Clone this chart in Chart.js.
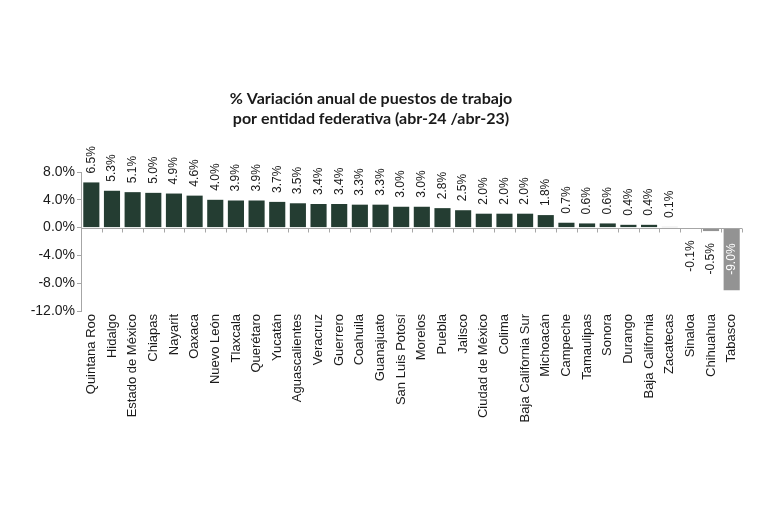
<!DOCTYPE html>
<html>
<head>
<meta charset="utf-8">
<script src="https://cdn.jsdelivr.net/npm/chart.js@4/dist/chart.umd.min.js"></script>
<style>
    html, body { margin: 0; padding: 0; background: #fff; }
    #wrap { width: 768px; height: 511px; }
</style>
</head>
<body>
<div id="wrap"><canvas id="chart"></canvas></div>
<script>
// Estados, ordenados de mayor a menor variación
const states = [
    'Quintana Roo', 'Hidalgo', 'Estado de México', 'Chiapas', 'Nayarit', 'Oaxaca',
    'Nuevo León', 'Tlaxcala', 'Querétaro', 'Yucatán', 'Aguascalientes', 'Veracruz',
    'Guerrero', 'Coahuila', 'Guanajuato', 'San Luis Potosí', 'Morelos', 'Puebla',
    'Jalisco', 'Ciudad de México', 'Colima', 'Baja California Sur', 'Michoacán',
    'Campeche', 'Tamaulipas', 'Sonora', 'Durango', 'Baja California', 'Zacatecas',
    'Sinaloa', 'Chihuahua', 'Tabasco'
];

// % variación anual abr-24 / abr-23
const variation = [
    6.5, 5.3, 5.1, 5.0, 4.9, 4.6,
    4.0, 3.9, 3.9, 3.7, 3.5, 3.4,
    3.4, 3.3, 3.3, 3.0, 3.0, 2.8,
    2.5, 2.0, 2.0, 2.0, 1.8,
    0.7, 0.6, 0.6, 0.4, 0.4, 0.1,
    -0.1, -0.5, -9.0
];

// Estados destacados en gris
const grayStates = ['Zacatecas', 'Sinaloa', 'Chihuahua', 'Tabasco'];

const yTicks = [8, 4, 0, -4, -8, -12];

const GREEN = '#243d32';
const GRAY = '#939393';
const AXIS = '#a6a6a6';

/**
 * Draws the zero line with small category ticks and the rotated value labels.
 */
const barDecor = {
    id: 'barDecor',
    afterDatasetsDraw(chart) {
        const { ctx, chartArea } = chart;
        const x = chart.scales.x;
        const y = chart.scales.y;
        const zero = Math.round(y.getPixelForValue(0)) + 0.5;
        const step = x.getPixelForValue(1) - x.getPixelForValue(0);

        ctx.save();
        ctx.strokeStyle = AXIS;
        ctx.lineWidth = 1;
        ctx.beginPath();
        ctx.moveTo(chartArea.left, zero);
        ctx.lineTo(chartArea.right, zero);
        for (let i = 0; i <= states.length; i++) {
            const px = Math.round(x.getPixelForValue(i) - step / 2) + 0.5;
            ctx.moveTo(px, zero);
            ctx.lineTo(px, zero + 4);
        }
        ctx.stroke();

        // value labels
        const meta = chart.getDatasetMeta(0);
        ctx.font = '12px "Liberation Sans", Arial, sans-serif';
        ctx.textBaseline = 'middle';
        meta.data.forEach((bar, i) => {
            const v = variation[i];
            const text = v.toFixed(1) + '%';
            ctx.save();
            if (v < -5) {
                ctx.translate(bar.x, (bar.y + bar.base) / 2);
                ctx.rotate(-Math.PI / 2);
                ctx.fillStyle = '#ffffff';
                ctx.textAlign = 'center';
            } else if (v < 0) {
                ctx.translate(bar.x, bar.y + 12);
                ctx.rotate(-Math.PI / 2);
                ctx.fillStyle = '#1a1a1a';
                ctx.textAlign = 'right';
            } else {
                ctx.translate(bar.x, bar.y - 9);
                ctx.rotate(-Math.PI / 2);
                ctx.fillStyle = '#1a1a1a';
                ctx.textAlign = 'left';
            }
            ctx.fillText(text, 0, 0);
            ctx.restore();
        });
        ctx.restore();
    }
};

new Chart(document.getElementById('chart'), {
    type: 'bar',
    data: {
        labels: states,
        datasets: [{
            data: variation,
            backgroundColor: (c) => grayStates.includes(states[c.dataIndex]) ? GRAY : GREEN,
            borderWidth: 0,
            barPercentage: 0.78,
            categoryPercentage: 1.0
        }]
    },
    options: {
        responsive: true,
        maintainAspectRatio: false,
        animation: false,
        layout: {
            padding: { top: 89, right: 26, bottom: 60, left: 0 }
        },
        plugins: {
            legend: { display: false },
            tooltip: { enabled: false },
            title: {
                display: true,
                text: ['% Variación anual de puestos de trabajo', 'por entidad federativa (abr-24 /abr-23)'],
                color: '#1a1a1a',
                font: { family: 'Lato, "Open Sans", sans-serif', size: 16, weight: 'bold', lineHeight: 1.25 },
                padding: { top: 0, bottom: 43 }
            }
        },
        scales: {
            x: {
                grid: { display: false, drawTicks: false },
                border: { display: false },
                ticks: {
                    autoSkip: false,
                    maxRotation: 90,
                    minRotation: 90,
                    padding: 3,
                    color: '#1a1a1a',
                    font: { family: '"Liberation Sans", Arial, sans-serif', size: 13 }
                },
                afterFit: (s) => { s.height = 140; }
            },
            y: {
                min: -12,
                max: 8,
                afterBuildTicks: (s) => { s.ticks = yTicks.map(v => ({ value: v })); },
                grid: { drawOnChartArea: false, drawTicks: true, tickLength: 4, color: AXIS },
                border: { display: true, color: AXIS },
                ticks: {
                    padding: 2,
                    color: '#1a1a1a',
                    font: { family: '"Liberation Sans", Arial, sans-serif', size: 14 },
                    callback: (v) => v.toFixed(1) + '%'
                },
                afterFit: (s) => { s.width = 81; }
            }
        }
    },
    plugins: [barDecor]
});
</script>
</body>
</html>
